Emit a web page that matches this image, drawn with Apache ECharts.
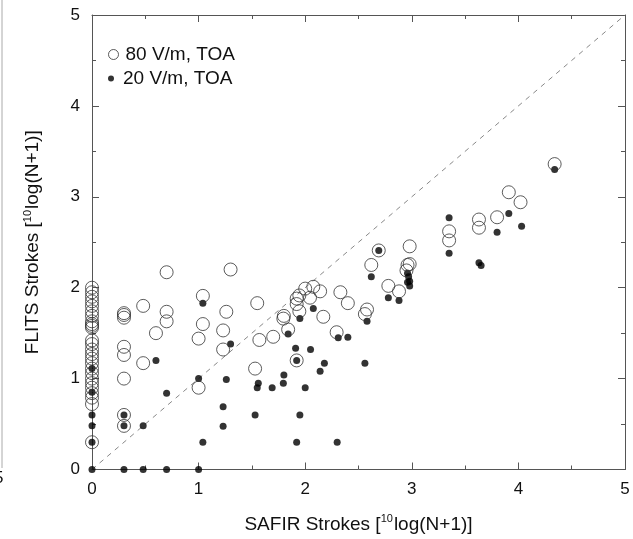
<!DOCTYPE html>
<html>
<head>
<meta charset="utf-8">
<script src="https://cdn.jsdelivr.net/npm/echarts@6/dist/echarts.min.js"></script>
<style>
html,body{margin:0;padding:0;background:#fff;}
#c{width:633px;height:539px;}
</style>
</head>
<body>
<div id="c"></div>
<script>
// ---- data (log10(N+1)) ----
const xTicks = [0, 1, 2, 3, 4, 5];
const yTicks = [0, 1, 2, 3, 4, 5];

// 80 V/m, TOA (open circles): [SAFIR, FLITS]
const open80 = [
  [0,2.0],[0,1.95],[0,1.90],[0,1.85],[0,1.80],[0,1.74],[0,1.69],[0,1.63],[0,1.60],[0,1.58],[0,1.56],
  [0,1.42],[0,1.38],[0,1.32],[0,1.27],[0,1.22],[0,1.17],[0,1.11],[0,1.06],[0,1.0],[0,0.95],[0,0.90],
  [0,0.84],[0,0.79],[0,0.72],[0,0.30],
  [0.30,1.72],[0.30,1.70],[0.30,1.67],[0.30,1.35],[0.30,1.26],[0.30,1.0],[0.30,0.60],[0.30,0.48],
  [0.48,1.80],[0.48,1.17],
  [0.60,1.50],
  [0.70,2.17],[0.70,1.735],[0.70,1.63],
  [1.0,1.44],[1.0,0.90],
  [1.04,1.91],[1.04,1.60],
  [1.23,1.53],[1.23,1.32],[1.26,1.735],[1.30,2.20],
  [1.53,1.11],[1.55,1.83],[1.57,1.425],[1.70,1.46],
  [1.80,1.69],[1.795,1.66],[1.84,1.54],
  [1.92,1.88],[1.92,1.82],[1.92,1.20],[1.945,1.915],[1.945,1.74],
  [2.0,1.99],[2.045,1.89],[2.076,2.01],[2.14,1.96],[2.17,1.68],
  [2.33,1.95],[2.40,1.83],[2.295,1.51],
  [2.56,1.71],[2.58,1.76],[2.62,2.25],[2.69,2.41],
  [2.78,2.02],[2.88,1.96],
  [2.98,2.455],[2.98,2.26],[2.96,2.25],[2.95,2.19],
  [3.35,2.62],[3.35,2.52],
  [3.63,2.75],[3.63,2.66],[3.80,2.775],[3.91,3.05],[4.02,2.94],[4.34,3.36]
];

// 20 V/m, TOA (filled dots)
const filled20 = [
  [0,1.11],[0,0.85],[0,0.60],[0,0.48],[0,0.30],[0,0],
  [0.30,0.60],[0.30,0.48],[0.30,0],
  [0.48,0.48],[0.48,0],
  [0.60,1.20],
  [0.70,0.84],[0.70,0],
  [1.0,1.0],[1.0,0],
  [1.04,1.83],[1.04,0.30],
  [1.23,0.69],[1.23,0.475],[1.26,0.99],[1.30,1.38],
  [1.53,0.60],[1.56,0.95],[1.55,0.90],[1.69,0.90],
  [1.80,1.04],[1.795,0.95],[1.84,1.49],
  [1.91,1.335],[1.92,1.20],[1.92,0.30],[1.95,1.66],[1.95,0.60],
  [2.0,0.90],[2.05,1.32],[2.076,1.77],[2.14,1.08],[2.18,1.17],
  [2.31,1.45],[2.30,0.30],[2.40,1.455],
  [2.56,1.17],[2.58,1.63],[2.62,2.12],[2.69,2.41],
  [2.78,1.89],[2.88,1.86],
  [2.96,2.16],[2.97,2.12],[2.98,2.07],[2.96,2.06],[2.98,2.02],
  [3.35,2.77],[3.35,2.38],
  [3.63,2.275],[3.65,2.245],[3.80,2.61],[3.91,2.815],[4.03,2.675],[4.34,3.30]
];

const diagonal = [[0,0],[5,5]];
const seriesNames = ['80 V/m, TOA', '20 V/m, TOA'];

// ---- chart ----
const FONT = 'Liberation Sans, Arial, Helvetica, sans-serif';
const AX = '#555';
const chart = echarts.init(document.getElementById('c'), null, {renderer: 'canvas'});

function axisBase(extra) {
  return Object.assign({
    type: 'value', min: 0, max: 5, interval: 1,
    axisLine: {show: true, onZero: false, lineStyle: {color: AX, width: 1}},
    axisTick: {show: true, inside: true, length: 7, lineStyle: {color: AX}},
    minorTick: {show: true, splitNumber: 2, length: 4, lineStyle: {color: AX}},
    splitLine: {show: false},
    axisLabel: {show: false}
  }, extra);
}

const titleRich = {
  a: {fontSize: 19, color: '#111', fontFamily: FONT, lineHeight: 22},
  s: {fontSize: 11, color: '#111', fontFamily: FONT, verticalAlign: 'top', lineHeight: 11, padding: [0,1,0,0]}
};

chart.setOption({
  animation: false,
  backgroundColor: '#fff',
  textStyle: {fontFamily: FONT},
  grid: {left: 92, right: 8, top: 15, bottom: 61, containLabel: false},
  xAxis: [
    axisBase({
      position: 'bottom',
      axisLabel: {show: true, fontSize: 17, color: '#111', fontFamily: FONT, margin: 11,
        formatter: v => xTicks.includes(v) ? String(v) : ''},
      name: '{a|SAFIR Strokes [}{s|10}{a|log(N+1)]}',
      nameLocation: 'middle', nameGap: 44,
      nameTextStyle: {rich: titleRich}
    }),
    axisBase({position: 'top'})
  ],
  yAxis: [
    axisBase({
      position: 'left',
      axisLabel: {show: true, fontSize: 17, color: '#111', fontFamily: FONT, margin: 12,
        formatter: v => yTicks.includes(v) ? String(v) : ''},
      name: '{a|FLITS Strokes [}{s|10}{a|log(N+1)]}',
      nameLocation: 'middle', nameGap: 48, nameRotate: 90,
      nameTextStyle: {rich: titleRich}
    }),
    axisBase({position: 'right'})
  ],
  legend: [
    {
      left: 103, top: 40, orient: 'vertical', itemWidth: 14, itemHeight: 10, itemGap: 6,
      textStyle: {fontSize: 19, color: '#111', fontFamily: FONT},
      data: [{name: seriesNames[0], icon: 'circle',
        itemStyle: {color: 'rgba(0,0,0,0)', borderColor: '#333', borderWidth: 1}}]
    },
    {
      left: 103, top: 64, orient: 'vertical', itemWidth: 14, itemHeight: 6,
      textStyle: {fontSize: 19, color: '#111', fontFamily: FONT},
      data: [{name: seriesNames[1], icon: 'circle', itemStyle: {color: '#000'}}]
    }
  ],
  series: [
    {
      type: 'line', data: diagonal, showSymbol: false, silent: true,
      lineStyle: {color: '#888', width: 1, type: [5, 5]}, z: 1
    },
    {
      name: seriesNames[1], type: 'scatter', data: filled20, symbol: 'circle', symbolSize: 7,
      itemStyle: {color: '#000'}, z: 3
    },
    {
      name: seriesNames[0], type: 'scatter', data: open80, symbol: 'circle', symbolSize: 13,
      itemStyle: {color: 'rgba(0,0,0,0)', borderColor: '#333', borderWidth: 1}, z: 4
    }
  ],
  graphic: [
    {type: 'line', shape: {x1: 2, y1: 0, x2: 2, y2: 468}, style: {stroke: '#aaa', lineWidth: 1}},
    {type: 'text', left: -6, top: 470, style: {text: '5', fontSize: 17, fill: '#111', fontFamily: FONT}}
  ]
});
</script>
</body>
</html>
